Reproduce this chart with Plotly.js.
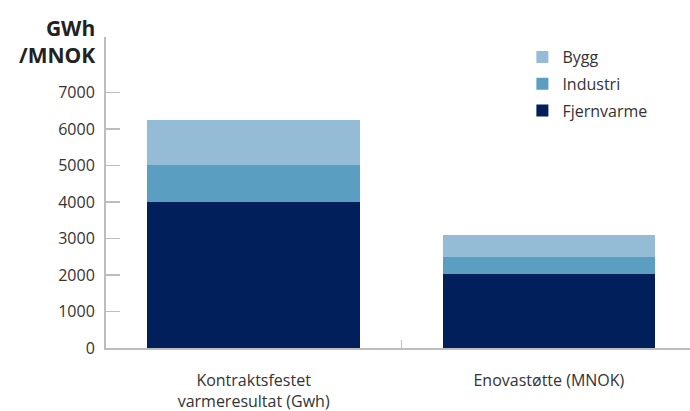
<!DOCTYPE html>
<html>
<head>
<meta charset="utf-8">
<script src="https://cdn.plot.ly/plotly-3.0.1.min.js"></script>
<style>html,body{margin:0;padding:0;background:#fff;}#chart{width:690px;height:411px;}</style>
</head>
<body>
<div id="chart"></div>
<script>
const categories = ["Kontraktsfestet<br>varmeresultat (Gwh)", "Enovastøtte (MNOK)"];
const fjernvarme = [4000, 2030];
const industri = [1000, 460];
const bygg = [1240, 605];
const yTickVals = [0, 1000, 2000, 3000, 4000, 5000, 6000, 7000, 8520];
const yTickText = ["0", "1000", "2000", "3000", "4000", "5000", "6000", "7000", ""];

const font = {family: "Open Sans, Noto Sans, sans-serif", size: 16, color: "#333"};
const traces = [
  {type: "bar", name: "Fjernvarme", legendgroup: "f", legendrank: 3, x: categories, y: fjernvarme, marker: {color: "#001f5b"}},
  {type: "bar", name: "Industri", legendgroup: "i", legendrank: 2, x: categories, y: industri, marker: {color: "#5a9ec2"}},
  {type: "bar", name: "Bygg", legendgroup: "b", legendrank: 1, x: categories, y: bygg, marker: {color: "#95bcd6"}}
];
const layout = {
  width: 690, height: 411,
  margin: {l: 106, r: 0, t: 37, b: 63},
  barmode: "stack",
  bargap: 0.28,
  paper_bgcolor: "#fff", plot_bgcolor: "#fff",
  font: font,
  showlegend: true,
  legend: {x: 0.713, xanchor: "left", y: 0.99, yanchor: "top", traceorder: "grouped",
           font: font, itemwidth: 30, tracegroupgap: 3, bgcolor: "rgba(0,0,0,0)"},
  xaxis: {type: "category", range: [-0.5, 1.478], showline: true, linecolor: "#bdbdbd", linewidth: 2,
          ticks: "inside", tickson: "boundaries", ticklen: 8, tickcolor: "#bdbdbd", tickwidth: 1.5,
          showgrid: false, zeroline: false, ticklabelstandoff: 17, tickfont: font},
  yaxis: {range: [0, 8520], showline: true, linecolor: "#bdbdbd", linewidth: 2,
          ticks: "inside", ticklen: 14, tickcolor: "#bdbdbd", tickwidth: 1.5,
          tickvals: yTickVals, ticktext: yTickText, showgrid: false, zeroline: false,
          ticklabelstandoff: 6, tickfont: font},
  annotations: [{xref: "paper", yref: "paper", x: 0, y: 1, xanchor: "right", yanchor: "middle",
                 xshift: -9, yshift: -4, align: "right", showarrow: false,
                 text: "<b>GWh<br>/MNOK</b>",
                 font: {family: "Open Sans, Noto Sans, sans-serif", size: 21, color: "#222"}}]
};
Plotly.newPlot("chart", traces, layout, {displayModeBar: false, staticPlot: true});
</script>
</body>
</html>
